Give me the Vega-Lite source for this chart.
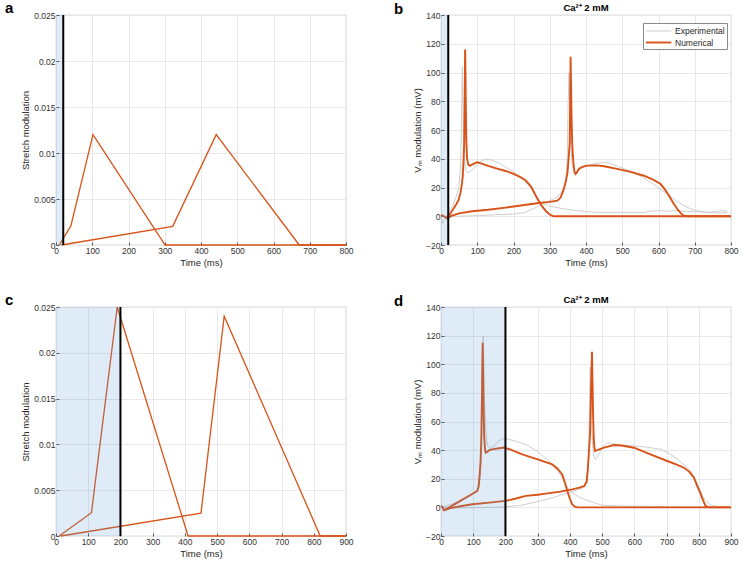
{
"$schema": "https://vega.github.io/schema/vega-lite/v6.json",
"padding": {"left": 4, "top": 0, "right": 5, "bottom": 4},
"background": "white",
"datasets": {
"a": [
{"trace":"s1","t":9,"v":0},{"trace":"s1","t":41,"v":0.00207},{"trace":"s1","t":102,"v":0.012},{"trace":"s1","t":301,"v":0},{"trace":"s1","t":800,"v":0},
{"trace":"s2","t":15,"v":0},{"trace":"s2","t":322,"v":0.00203},{"trace":"s2","t":442,"v":0.012},{"trace":"s2","t":671,"v":0},{"trace":"s2","t":800,"v":0}
],
"c": [
{"trace":"s1","t":10,"v":0},{"trace":"s1","t":110,"v":0.00254},{"trace":"s1","t":190,"v":0.025},{"trace":"s1","t":410,"v":0},{"trace":"s1","t":900,"v":0},
{"trace":"s2","t":15,"v":0},{"trace":"s2","t":450,"v":0.0025},{"trace":"s2","t":522,"v":0.024},{"trace":"s2","t":820,"v":0},{"trace":"s2","t":900,"v":0}
],
"b": [
{"type":"Experimental","trace":"e1","t":0,"v":-1},{"type":"Experimental","trace":"e1","t":4,"v":-5},{"type":"Experimental","trace":"e1","t":8,"v":-3},{"type":"Experimental","trace":"e1","t":15,"v":0},{"type":"Experimental","trace":"e1","t":25,"v":4},{"type":"Experimental","trace":"e1","t":35,"v":9},{"type":"Experimental","trace":"e1","t":45,"v":16},{"type":"Experimental","trace":"e1","t":50,"v":22},{"type":"Experimental","trace":"e1","t":54,"v":35},{"type":"Experimental","trace":"e1","t":56,"v":60},{"type":"Experimental","trace":"e1","t":58,"v":90},{"type":"Experimental","trace":"e1","t":59,"v":104},{"type":"Experimental","trace":"e1","t":60,"v":85},{"type":"Experimental","trace":"e1","t":62,"v":55},{"type":"Experimental","trace":"e1","t":65,"v":38},{"type":"Experimental","trace":"e1","t":68,"v":32},{"type":"Experimental","trace":"e1","t":74,"v":30.5},{"type":"Experimental","trace":"e1","t":80,"v":31},{"type":"Experimental","trace":"e1","t":90,"v":33},{"type":"Experimental","trace":"e1","t":100,"v":36},{"type":"Experimental","trace":"e1","t":110,"v":38.5},{"type":"Experimental","trace":"e1","t":125,"v":39.8},{"type":"Experimental","trace":"e1","t":140,"v":39},{"type":"Experimental","trace":"e1","t":160,"v":37},{"type":"Experimental","trace":"e1","t":180,"v":34},{"type":"Experimental","trace":"e1","t":200,"v":31},{"type":"Experimental","trace":"e1","t":220,"v":27.5},{"type":"Experimental","trace":"e1","t":235,"v":23.5},{"type":"Experimental","trace":"e1","t":250,"v":19},{"type":"Experimental","trace":"e1","t":262,"v":14},{"type":"Experimental","trace":"e1","t":272,"v":11},{"type":"Experimental","trace":"e1","t":285,"v":8.5},{"type":"Experimental","trace":"e1","t":300,"v":7},{"type":"Experimental","trace":"e1","t":320,"v":6},{"type":"Experimental","trace":"e1","t":344,"v":5},{"type":"Experimental","trace":"e1","t":370,"v":4},{"type":"Experimental","trace":"e1","t":400,"v":3.2},{"type":"Experimental","trace":"e1","t":430,"v":2.8},{"type":"Experimental","trace":"e1","t":460,"v":2.6},{"type":"Experimental","trace":"e1","t":500,"v":2.7},{"type":"Experimental","trace":"e1","t":540,"v":2.5},{"type":"Experimental","trace":"e1","t":560,"v":2.6},{"type":"Experimental","trace":"e1","t":580,"v":3.6},{"type":"Experimental","trace":"e1","t":600,"v":3.9},{"type":"Experimental","trace":"e1","t":620,"v":3.5},{"type":"Experimental","trace":"e1","t":640,"v":3.8},{"type":"Experimental","trace":"e1","t":660,"v":3.7},{"type":"Experimental","trace":"e1","t":680,"v":3.2},{"type":"Experimental","trace":"e1","t":700,"v":3.3},{"type":"Experimental","trace":"e1","t":720,"v":2.8},{"type":"Experimental","trace":"e1","t":740,"v":2.7},{"type":"Experimental","trace":"e1","t":760,"v":3.4},{"type":"Experimental","trace":"e1","t":775,"v":3.9},{"type":"Experimental","trace":"e1","t":790,"v":3.2},
{"type":"Experimental","trace":"e2","t":18,"v":-1},{"type":"Experimental","trace":"e2","t":40,"v":0},{"type":"Experimental","trace":"e2","t":100,"v":0.4},{"type":"Experimental","trace":"e2","t":150,"v":1},{"type":"Experimental","trace":"e2","t":200,"v":1.5},{"type":"Experimental","trace":"e2","t":230,"v":2.5},{"type":"Experimental","trace":"e2","t":252,"v":5},{"type":"Experimental","trace":"e2","t":270,"v":7},{"type":"Experimental","trace":"e2","t":289,"v":9.7},{"type":"Experimental","trace":"e2","t":310,"v":12},{"type":"Experimental","trace":"e2","t":325,"v":14.3},{"type":"Experimental","trace":"e2","t":335,"v":18},{"type":"Experimental","trace":"e2","t":344,"v":23.6},{"type":"Experimental","trace":"e2","t":348,"v":40},{"type":"Experimental","trace":"e2","t":351,"v":80},{"type":"Experimental","trace":"e2","t":353,"v":100},{"type":"Experimental","trace":"e2","t":355,"v":80},{"type":"Experimental","trace":"e2","t":358,"v":50},{"type":"Experimental","trace":"e2","t":362,"v":35},{"type":"Experimental","trace":"e2","t":368,"v":30.5},{"type":"Experimental","trace":"e2","t":375,"v":31},{"type":"Experimental","trace":"e2","t":385,"v":33.5},{"type":"Experimental","trace":"e2","t":400,"v":35},{"type":"Experimental","trace":"e2","t":431,"v":37},{"type":"Experimental","trace":"e2","t":459,"v":37.5},{"type":"Experimental","trace":"e2","t":490,"v":34.5},{"type":"Experimental","trace":"e2","t":533,"v":30.5},{"type":"Experimental","trace":"e2","t":560,"v":26.5},{"type":"Experimental","trace":"e2","t":579,"v":23.6},{"type":"Experimental","trace":"e2","t":600,"v":19.5},{"type":"Experimental","trace":"e2","t":624,"v":15.5},{"type":"Experimental","trace":"e2","t":645,"v":11.5},{"type":"Experimental","trace":"e2","t":670,"v":7.4},{"type":"Experimental","trace":"e2","t":690,"v":5},{"type":"Experimental","trace":"e2","t":707,"v":3.9},{"type":"Experimental","trace":"e2","t":740,"v":2.5},{"type":"Experimental","trace":"e2","t":770,"v":2.2},{"type":"Experimental","trace":"e2","t":790,"v":2.4},
{"type":"Numerical","trace":"n1","t":0,"v":1},{"type":"Numerical","trace":"n1","t":8,"v":0},{"type":"Numerical","trace":"n1","t":17,"v":-1.5},{"type":"Numerical","trace":"n1","t":22,"v":0.5},{"type":"Numerical","trace":"n1","t":30,"v":3.5},{"type":"Numerical","trace":"n1","t":40,"v":7.4},{"type":"Numerical","trace":"n1","t":48,"v":11},{"type":"Numerical","trace":"n1","t":54,"v":16.6},{"type":"Numerical","trace":"n1","t":58,"v":23},{"type":"Numerical","trace":"n1","t":60,"v":28},{"type":"Numerical","trace":"n1","t":62,"v":38},{"type":"Numerical","trace":"n1","t":64,"v":51},{"type":"Numerical","trace":"n1","t":65,"v":75},{"type":"Numerical","trace":"n1","t":66,"v":100},{"type":"Numerical","trace":"n1","t":66.5,"v":116},{"type":"Numerical","trace":"n1","t":67.5,"v":100},{"type":"Numerical","trace":"n1","t":68.5,"v":75},{"type":"Numerical","trace":"n1","t":70,"v":52},{"type":"Numerical","trace":"n1","t":72,"v":40},{"type":"Numerical","trace":"n1","t":75,"v":36},{"type":"Numerical","trace":"n1","t":79,"v":35.2},{"type":"Numerical","trace":"n1","t":85,"v":35.8},{"type":"Numerical","trace":"n1","t":92,"v":36.8},{"type":"Numerical","trace":"n1","t":100,"v":37.5},{"type":"Numerical","trace":"n1","t":110,"v":36.8},{"type":"Numerical","trace":"n1","t":130,"v":35},{"type":"Numerical","trace":"n1","t":150,"v":33.5},{"type":"Numerical","trace":"n1","t":178,"v":31.5},{"type":"Numerical","trace":"n1","t":200,"v":29.5},{"type":"Numerical","trace":"n1","t":220,"v":27},{"type":"Numerical","trace":"n1","t":233,"v":25},{"type":"Numerical","trace":"n1","t":242,"v":22.5},{"type":"Numerical","trace":"n1","t":250,"v":20},{"type":"Numerical","trace":"n1","t":260,"v":15},{"type":"Numerical","trace":"n1","t":270,"v":10.5},{"type":"Numerical","trace":"n1","t":280,"v":6.5},{"type":"Numerical","trace":"n1","t":290,"v":3.5},{"type":"Numerical","trace":"n1","t":300,"v":1.2},{"type":"Numerical","trace":"n1","t":308,"v":0.2},{"type":"Numerical","trace":"n1","t":315,"v":0},{"type":"Numerical","trace":"n1","t":800,"v":0},
{"type":"Numerical","trace":"n2","t":17,"v":-1.5},{"type":"Numerical","trace":"n2","t":30,"v":0.5},{"type":"Numerical","trace":"n2","t":50,"v":2},{"type":"Numerical","trace":"n2","t":86,"v":3.5},{"type":"Numerical","trace":"n2","t":130,"v":4.5},{"type":"Numerical","trace":"n2","t":178,"v":6},{"type":"Numerical","trace":"n2","t":230,"v":7.8},{"type":"Numerical","trace":"n2","t":270,"v":9.2},{"type":"Numerical","trace":"n2","t":300,"v":10},{"type":"Numerical","trace":"n2","t":321,"v":10.8},{"type":"Numerical","trace":"n2","t":330,"v":13},{"type":"Numerical","trace":"n2","t":339,"v":19},{"type":"Numerical","trace":"n2","t":345,"v":25},{"type":"Numerical","trace":"n2","t":349,"v":30.6},{"type":"Numerical","trace":"n2","t":352,"v":40},{"type":"Numerical","trace":"n2","t":355,"v":51},{"type":"Numerical","trace":"n2","t":356.5,"v":80},{"type":"Numerical","trace":"n2","t":357.5,"v":111},{"type":"Numerical","trace":"n2","t":358.5,"v":95},{"type":"Numerical","trace":"n2","t":360,"v":70},{"type":"Numerical","trace":"n2","t":362,"v":50},{"type":"Numerical","trace":"n2","t":365,"v":38},{"type":"Numerical","trace":"n2","t":368,"v":31},{"type":"Numerical","trace":"n2","t":371,"v":29.4},{"type":"Numerical","trace":"n2","t":375,"v":30.5},{"type":"Numerical","trace":"n2","t":380,"v":32.9},{"type":"Numerical","trace":"n2","t":390,"v":34.3},{"type":"Numerical","trace":"n2","t":403,"v":35.2},{"type":"Numerical","trace":"n2","t":431,"v":35.4},{"type":"Numerical","trace":"n2","t":450,"v":34.8},{"type":"Numerical","trace":"n2","t":486,"v":33},{"type":"Numerical","trace":"n2","t":520,"v":31},{"type":"Numerical","trace":"n2","t":560,"v":28.2},{"type":"Numerical","trace":"n2","t":585,"v":25.5},{"type":"Numerical","trace":"n2","t":606,"v":22.4},{"type":"Numerical","trace":"n2","t":618,"v":18.5},{"type":"Numerical","trace":"n2","t":629,"v":14.3},{"type":"Numerical","trace":"n2","t":640,"v":9.5},{"type":"Numerical","trace":"n2","t":652,"v":5},{"type":"Numerical","trace":"n2","t":662,"v":2},{"type":"Numerical","trace":"n2","t":670,"v":0.4},{"type":"Numerical","trace":"n2","t":678,"v":0},{"type":"Numerical","trace":"n2","t":800,"v":0}
],
"d": [
{"type":"Experimental","trace":"e1","t":0,"v":2},{"type":"Experimental","trace":"e1","t":10,"v":0.5},{"type":"Experimental","trace":"e1","t":30,"v":2},{"type":"Experimental","trace":"e1","t":60,"v":4.5},{"type":"Experimental","trace":"e1","t":90,"v":8},{"type":"Experimental","trace":"e1","t":110,"v":11},{"type":"Experimental","trace":"e1","t":118,"v":14},{"type":"Experimental","trace":"e1","t":122,"v":22},{"type":"Experimental","trace":"e1","t":125,"v":35},{"type":"Experimental","trace":"e1","t":127,"v":60},{"type":"Experimental","trace":"e1","t":129,"v":95},{"type":"Experimental","trace":"e1","t":131,"v":119.8},{"type":"Experimental","trace":"e1","t":133,"v":100},{"type":"Experimental","trace":"e1","t":135,"v":75},{"type":"Experimental","trace":"e1","t":138,"v":58},{"type":"Experimental","trace":"e1","t":142,"v":46},{"type":"Experimental","trace":"e1","t":146,"v":42.5},{"type":"Experimental","trace":"e1","t":150,"v":41.7},{"type":"Experimental","trace":"e1","t":155,"v":41.2},{"type":"Experimental","trace":"e1","t":165,"v":43},{"type":"Experimental","trace":"e1","t":180,"v":46.5},{"type":"Experimental","trace":"e1","t":195,"v":48.3},{"type":"Experimental","trace":"e1","t":220,"v":47},{"type":"Experimental","trace":"e1","t":263,"v":44},{"type":"Experimental","trace":"e1","t":300,"v":39},{"type":"Experimental","trace":"e1","t":335,"v":32.4},{"type":"Experimental","trace":"e1","t":360,"v":26},{"type":"Experimental","trace":"e1","t":376,"v":20.8},{"type":"Experimental","trace":"e1","t":392,"v":14},{"type":"Experimental","trace":"e1","t":407,"v":10.3},{"type":"Experimental","trace":"e1","t":430,"v":7},{"type":"Experimental","trace":"e1","t":459,"v":4.5},{"type":"Experimental","trace":"e1","t":475,"v":3.3},{"type":"Experimental","trace":"e1","t":500,"v":1.5},{"type":"Experimental","trace":"e1","t":550,"v":1},{"type":"Experimental","trace":"e1","t":600,"v":0.8},{"type":"Experimental","trace":"e1","t":700,"v":0.5},{"type":"Experimental","trace":"e1","t":800,"v":0.3},{"type":"Experimental","trace":"e1","t":900,"v":0.2},
{"type":"Experimental","trace":"e2","t":0,"v":0},{"type":"Experimental","trace":"e2","t":50,"v":-0.3},{"type":"Experimental","trace":"e2","t":100,"v":-0.2},{"type":"Experimental","trace":"e2","t":150,"v":0},{"type":"Experimental","trace":"e2","t":200,"v":0.3},{"type":"Experimental","trace":"e2","t":250,"v":1.5},{"type":"Experimental","trace":"e2","t":300,"v":4},{"type":"Experimental","trace":"e2","t":350,"v":7},{"type":"Experimental","trace":"e2","t":400,"v":10.5},{"type":"Experimental","trace":"e2","t":440,"v":13.5},{"type":"Experimental","trace":"e2","t":452,"v":17},{"type":"Experimental","trace":"e2","t":456,"v":25},{"type":"Experimental","trace":"e2","t":459,"v":45},{"type":"Experimental","trace":"e2","t":461,"v":75},{"type":"Experimental","trace":"e2","t":463,"v":98},{"type":"Experimental","trace":"e2","t":465,"v":80},{"type":"Experimental","trace":"e2","t":467,"v":60},{"type":"Experimental","trace":"e2","t":470,"v":45},{"type":"Experimental","trace":"e2","t":474,"v":36},{"type":"Experimental","trace":"e2","t":478,"v":33.6},{"type":"Experimental","trace":"e2","t":485,"v":35},{"type":"Experimental","trace":"e2","t":495,"v":39},{"type":"Experimental","trace":"e2","t":505,"v":43},{"type":"Experimental","trace":"e2","t":516,"v":45.2},{"type":"Experimental","trace":"e2","t":530,"v":44.5},{"type":"Experimental","trace":"e2","t":560,"v":43.5},{"type":"Experimental","trace":"e2","t":599,"v":43},{"type":"Experimental","trace":"e2","t":640,"v":42},{"type":"Experimental","trace":"e2","t":682,"v":40.6},{"type":"Experimental","trace":"e2","t":710,"v":37.5},{"type":"Experimental","trace":"e2","t":734,"v":33.6},{"type":"Experimental","trace":"e2","t":755,"v":29.5},{"type":"Experimental","trace":"e2","t":775,"v":25.4},{"type":"Experimental","trace":"e2","t":790,"v":19},{"type":"Experimental","trace":"e2","t":801,"v":13.8},{"type":"Experimental","trace":"e2","t":812,"v":8},{"type":"Experimental","trace":"e2","t":821,"v":4.5},{"type":"Experimental","trace":"e2","t":835,"v":2},{"type":"Experimental","trace":"e2","t":847,"v":1},{"type":"Experimental","trace":"e2","t":870,"v":0.3},{"type":"Experimental","trace":"e2","t":900,"v":0},
{"type":"Numerical","trace":"n1","t":0,"v":1},{"type":"Numerical","trace":"n1","t":5,"v":0},{"type":"Numerical","trace":"n1","t":9,"v":-2},{"type":"Numerical","trace":"n1","t":30,"v":0.5},{"type":"Numerical","trace":"n1","t":60,"v":4.5},{"type":"Numerical","trace":"n1","t":90,"v":8.5},{"type":"Numerical","trace":"n1","t":112.7,"v":11.5},{"type":"Numerical","trace":"n1","t":117,"v":15},{"type":"Numerical","trace":"n1","t":120,"v":23},{"type":"Numerical","trace":"n1","t":123,"v":33},{"type":"Numerical","trace":"n1","t":125,"v":46},{"type":"Numerical","trace":"n1","t":127,"v":75},{"type":"Numerical","trace":"n1","t":128.3,"v":100},{"type":"Numerical","trace":"n1","t":129.3,"v":115},{"type":"Numerical","trace":"n1","t":130.3,"v":100},{"type":"Numerical","trace":"n1","t":132,"v":70},{"type":"Numerical","trace":"n1","t":134,"v":50},{"type":"Numerical","trace":"n1","t":136.5,"v":41},{"type":"Numerical","trace":"n1","t":138.6,"v":38.2},{"type":"Numerical","trace":"n1","t":145,"v":39},{"type":"Numerical","trace":"n1","t":150,"v":40},{"type":"Numerical","trace":"n1","t":170,"v":41},{"type":"Numerical","trace":"n1","t":195.5,"v":41.8},{"type":"Numerical","trace":"n1","t":220,"v":40},{"type":"Numerical","trace":"n1","t":252,"v":37},{"type":"Numerical","trace":"n1","t":300,"v":33.5},{"type":"Numerical","trace":"n1","t":345,"v":30},{"type":"Numerical","trace":"n1","t":362,"v":27},{"type":"Numerical","trace":"n1","t":376,"v":23},{"type":"Numerical","trace":"n1","t":385,"v":17},{"type":"Numerical","trace":"n1","t":392,"v":11.5},{"type":"Numerical","trace":"n1","t":400,"v":6},{"type":"Numerical","trace":"n1","t":407,"v":2.2},{"type":"Numerical","trace":"n1","t":415,"v":0.5},{"type":"Numerical","trace":"n1","t":423,"v":0},{"type":"Numerical","trace":"n1","t":900,"v":0},
{"type":"Numerical","trace":"n2","t":9,"v":-2},{"type":"Numerical","trace":"n2","t":30,"v":-0.5},{"type":"Numerical","trace":"n2","t":60,"v":0.8},{"type":"Numerical","trace":"n2","t":97,"v":2.2},{"type":"Numerical","trace":"n2","t":150,"v":3.3},{"type":"Numerical","trace":"n2","t":200,"v":4.5},{"type":"Numerical","trace":"n2","t":230,"v":6},{"type":"Numerical","trace":"n2","t":263,"v":8},{"type":"Numerical","trace":"n2","t":300,"v":8.8},{"type":"Numerical","trace":"n2","t":325,"v":9.6},{"type":"Numerical","trace":"n2","t":370,"v":11},{"type":"Numerical","trace":"n2","t":407,"v":12.6},{"type":"Numerical","trace":"n2","t":430,"v":13.8},{"type":"Numerical","trace":"n2","t":445,"v":15},{"type":"Numerical","trace":"n2","t":452,"v":18},{"type":"Numerical","trace":"n2","t":455,"v":25},{"type":"Numerical","trace":"n2","t":458,"v":35},{"type":"Numerical","trace":"n2","t":462.4,"v":51},{"type":"Numerical","trace":"n2","t":465,"v":75},{"type":"Numerical","trace":"n2","t":467,"v":95},{"type":"Numerical","trace":"n2","t":468.6,"v":108.8},{"type":"Numerical","trace":"n2","t":470,"v":90},{"type":"Numerical","trace":"n2","t":472,"v":65},{"type":"Numerical","trace":"n2","t":474,"v":48},{"type":"Numerical","trace":"n2","t":476,"v":42},{"type":"Numerical","trace":"n2","t":478,"v":39.4},{"type":"Numerical","trace":"n2","t":485,"v":40},{"type":"Numerical","trace":"n2","t":506,"v":41.7},{"type":"Numerical","trace":"n2","t":537,"v":43.6},{"type":"Numerical","trace":"n2","t":560,"v":43.2},{"type":"Numerical","trace":"n2","t":599,"v":41.7},{"type":"Numerical","trace":"n2","t":650,"v":37},{"type":"Numerical","trace":"n2","t":702,"v":32.4},{"type":"Numerical","trace":"n2","t":730,"v":30},{"type":"Numerical","trace":"n2","t":754,"v":27.7},{"type":"Numerical","trace":"n2","t":770,"v":25},{"type":"Numerical","trace":"n2","t":785,"v":20.8},{"type":"Numerical","trace":"n2","t":795,"v":15},{"type":"Numerical","trace":"n2","t":806,"v":9.2},{"type":"Numerical","trace":"n2","t":814,"v":4.5},{"type":"Numerical","trace":"n2","t":821,"v":1},{"type":"Numerical","trace":"n2","t":830,"v":0},{"type":"Numerical","trace":"n2","t":900,"v":0}
]
},
"spacing": 24,
"vconcat": [
{"hconcat": [
{"width": 290, "height": 230,
 "title": {"text": "a", "dx": -51, "offset": -5},
 "layer": [
  {"data": {"name": "a"}, "mark": {"type": "line", "color": "#D95319", "strokeWidth": 1.3},
   "encoding": {
    "x": {"field": "t", "type": "quantitative", "scale": {"domain": [0, 800], "nice": false}, "axis": {"title": "Time (ms)", "values": [0,100,200,300,400,500,600,700,800], "labelOverlap": false, "tickCount": 9}},
    "y": {"field": "v", "type": "quantitative", "scale": {"domain": [0, 0.025], "nice": false}, "axis": {"title": "Stretch modulation", "values": [0,0.005,0.01,0.015,0.02,0.025], "format": "~g", "labelOverlap": false}},
    "detail": {"field": "trace"}}},
  {"data": {"values": [{"x0": 0, "x1": 20}]}, "mark": {"type": "rect", "color": "#4d94d1", "opacity": 0.18},
   "encoding": {"x": {"field": "x0", "type": "quantitative"}, "x2": {"field": "x1"}, "y": {"datum": 0}, "y2": {"datum": 0.025}}},
  {"data": {"values": [{"x": 20}]}, "mark": {"type": "rule", "color": "black", "strokeWidth": 2},
   "encoding": {"x": {"field": "x", "type": "quantitative"}}}
 ]},
{"width": 290, "height": 230,
 "title": {"text": "b", "dx": -47, "offset": -14},
 "layer": [
  {"data": {"name": "b"}, "mark": {"type": "line"},
   "encoding": {
    "x": {"field": "t", "type": "quantitative", "scale": {"domain": [0, 800], "nice": false}, "axis": {"title": "Time (ms)", "values": [0,100,200,300,400,500,600,700,800], "labelOverlap": false, "tickCount": 9}},
    "y": {"field": "v", "type": "quantitative", "scale": {"domain": [-20, 140], "nice": false}, "axis": {"title": "Vₘ modulation (mV)", "values": [-20,0,20,40,60,80,100,120,140], "labelOverlap": false, "tickCount": 9}},
    "color": {"field": "type", "type": "ordinal", "scale": {"domain": ["Experimental", "Numerical"], "range": ["#c8c8c8", "#D95319"]},
      "legend": {"title": null, "orient": "none", "legendX": 587, "legendY": 8, "symbolType": "M-1,0H3.6", "symbolSize": 121, "labelOffset": 17, "strokeColor": "#8a8a8a", "fillColor": "white", "padding": 2, "labelFontSize": 8.5, "rowPadding": 0, "labelColor": "#262626"}},
    "strokeWidth": {"field": "type", "type": "ordinal", "scale": {"domain": ["Experimental", "Numerical"], "range": [0.9, 1.9]},
      "legend": {"title": null, "orient": "none", "legendX": 587, "legendY": 8, "symbolType": "M-1,0H3.6", "symbolSize": 121, "labelOffset": 17, "strokeColor": "#8a8a8a", "fillColor": "white", "padding": 2, "labelFontSize": 8.5, "rowPadding": 0, "labelColor": "#262626"}},
    "detail": {"field": "trace"}}},
  {"data": {"values": [{"x0": 0, "x1": 20}]}, "mark": {"type": "rect", "color": "#4d94d1", "opacity": 0.18},
   "encoding": {"x": {"field": "x0", "type": "quantitative"}, "x2": {"field": "x1"}, "y": {"datum": -20}, "y2": {"datum": 140}}},
  {"data": {"values": [{"x": 20}]}, "mark": {"type": "rule", "color": "black", "strokeWidth": 2},
   "encoding": {"x": {"field": "x", "type": "quantitative"}}},
  {"data": {"values": [{"t": 400, "v": 140, "label": "Ca²⁺ 2 mM"}]}, "mark": {"type": "text", "fontWeight": "bold", "fontSize": 9.5, "baseline": "bottom", "dy": -2, "color": "black"},
   "encoding": {"x": {"field": "t", "type": "quantitative"}, "y": {"field": "v", "type": "quantitative"}, "text": {"field": "label"}}}
 ]}
], "spacing": 39},
{"hconcat": [
{"width": 290, "height": 229,
 "title": {"text": "c", "dx": -51, "offset": -5},
 "layer": [
  {"data": {"name": "c"}, "mark": {"type": "line", "color": "#D95319", "strokeWidth": 1.3},
   "encoding": {
    "x": {"field": "t", "type": "quantitative", "scale": {"domain": [0, 900], "nice": false}, "axis": {"title": "Time (ms)", "values": [0,100,200,300,400,500,600,700,800,900], "labelOverlap": false, "tickCount": 10}},
    "y": {"field": "v", "type": "quantitative", "scale": {"domain": [0, 0.025], "nice": false}, "axis": {"title": "Stretch modulation", "values": [0,0.005,0.01,0.015,0.02,0.025], "format": "~g", "labelOverlap": false}},
    "detail": {"field": "trace"}}},
  {"data": {"values": [{"x0": 0, "x1": 200}]}, "mark": {"type": "rect", "color": "#4d94d1", "opacity": 0.18},
   "encoding": {"x": {"field": "x0", "type": "quantitative"}, "x2": {"field": "x1"}, "y": {"datum": 0}, "y2": {"datum": 0.025}}},
  {"data": {"values": [{"x": 200}]}, "mark": {"type": "rule", "color": "black", "strokeWidth": 2},
   "encoding": {"x": {"field": "x", "type": "quantitative"}}}
 ]},
{"width": 290, "height": 229,
 "title": {"text": "d", "dx": -47, "offset": -14},
 "layer": [
  {"data": {"name": "d"}, "mark": {"type": "line"},
   "encoding": {
    "x": {"field": "t", "type": "quantitative", "scale": {"domain": [0, 900], "nice": false}, "axis": {"title": "Time (ms)", "values": [0,100,200,300,400,500,600,700,800,900], "labelOverlap": false, "tickCount": 10}},
    "y": {"field": "v", "type": "quantitative", "scale": {"domain": [-20, 140], "nice": false}, "axis": {"title": "Vₘ modulation (mV)", "values": [-20,0,20,40,60,80,100,120,140], "labelOverlap": false, "tickCount": 9}},
    "color": {"field": "type", "type": "ordinal", "scale": {"domain": ["Experimental", "Numerical"], "range": ["#c8c8c8", "#D95319"]}, "legend": null},
    "strokeWidth": {"field": "type", "type": "ordinal", "scale": {"domain": ["Experimental", "Numerical"], "range": [0.9, 1.9]}, "legend": null},
    "detail": {"field": "trace"}}},
  {"data": {"values": [{"x0": 0, "x1": 200}]}, "mark": {"type": "rect", "color": "#4d94d1", "opacity": 0.18},
   "encoding": {"x": {"field": "x0", "type": "quantitative"}, "x2": {"field": "x1"}, "y": {"datum": -20}, "y2": {"datum": 140}}},
  {"data": {"values": [{"x": 200}]}, "mark": {"type": "rule", "color": "black", "strokeWidth": 2},
   "encoding": {"x": {"field": "x", "type": "quantitative"}}},
  {"data": {"values": [{"t": 450, "v": 140, "label": "Ca²⁺ 2 mM"}]}, "mark": {"type": "text", "fontWeight": "bold", "fontSize": 9.5, "baseline": "bottom", "dy": -2, "color": "black"},
   "encoding": {"x": {"field": "t", "type": "quantitative"}, "y": {"field": "v", "type": "quantitative"}, "text": {"field": "label"}}}
 ]}
], "spacing": 39}
],
"resolve": {"scale": {"color": "independent", "strokeWidth": "independent"}},
"config": {
 "font": "Liberation Sans",
 "view": {"stroke": "#9a9a9a", "strokeWidth": 0.8},
 "title": {"fontSize": 15, "fontWeight": "bold", "anchor": "start", "frame": "group", "offset": 2, "color": "black"},
 "axis": {"labelFontSize": 8.5, "titleFontSize": 9.5, "labelColor": "#333333", "titleColor": "#262626", "titleFontWeight": "normal", "gridColor": "#e8e8e8", "domain": false, "tickSize": -3, "tickColor": "#555555", "labelPadding": 4, "titlePadding": 3, "labelOverlap": false, "labelFlush": false}
}
}
